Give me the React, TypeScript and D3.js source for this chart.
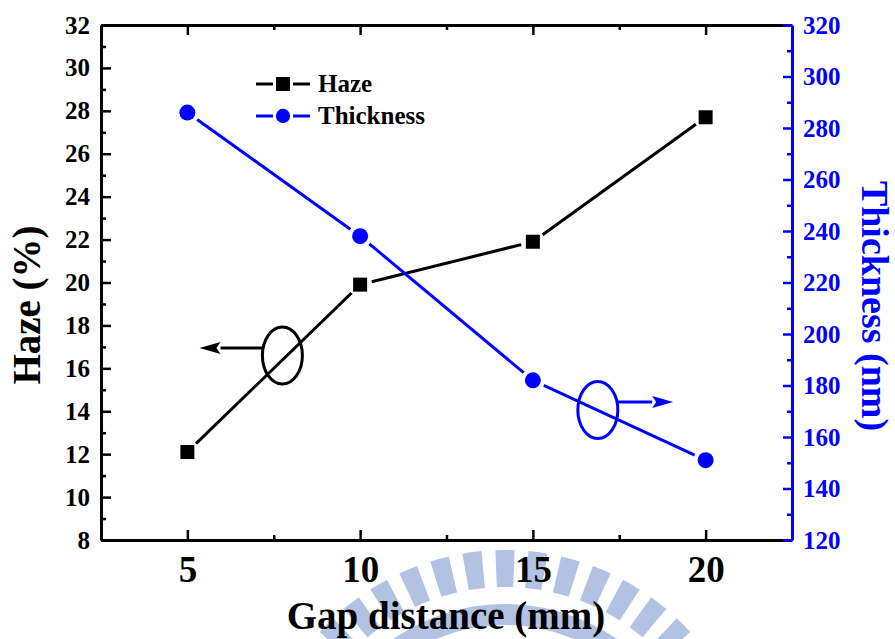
import {useEffect, useRef} from "react";
import * as d3 from "d3";

// Gap distance (mm) on the x axis
const gaps = [5, 10, 15, 20];
// Haze (%) – left axis, black squares
const haze = [12.1, 19.9, 21.9, 27.7];
// Thickness (nm) – right axis, blue circles
const thickness = [286, 238, 182, 151];

const gapTicks = [5, 10, 15, 20];
const gapMinor = [7.5, 12.5, 17.5];
const hazeTicks = [8, 10, 12, 14, 16, 18, 20, 22, 24, 26, 28, 30, 32];
const hazeMinor = [9, 11, 13, 15, 17, 19, 21, 23, 25, 27, 29, 31];
const thickTicks = [120, 140, 160, 180, 200, 220, 240, 260, 280, 300, 320];
const thickMinor = [130, 150, 170, 190, 210, 230, 250, 270, 290, 310];

const BLUE = "#0000ff";
const FONT = "'Liberation Serif', 'Times New Roman', serif";

export default function App() {
    const ref = useRef<SVGSVGElement>(null);

    useEffect(() => {
        const svg = d3.select(ref.current);
        svg.selectAll("*").remove();

        const width = 895;
        const height = 639;
        svg.attr("width", width).attr("height", height);

        const x = d3.scaleLinear().domain([2.5, 22.5]).range([101, 792]);
        const yL = d3.scaleLinear().domain([8, 32]).range([540, 25]);
        const yR = d3.scaleLinear().domain([120, 320]).range([540, 25]);

        // faint logo watermark behind the x title
        const wm = svg.append("g")
            .attr("transform", "translate(505,800)")
            .attr("fill", "#b2c2e2");
        const stripe = d3.arc<number>()
            .innerRadius(213)
            .outerRadius(250)
            .startAngle(a => (a - 2.2) * Math.PI / 180)
            .endAngle(a => (a + 2.2) * Math.PI / 180);
        wm.selectAll("path.stripe")
            .data(d3.range(-76, 77, 7.6))
            .enter().append("path")
            .attr("class", "stripe")
            .attr("d", stripe);
        wm.append("path")
            .attr("d", d3.arc()({innerRadius: 175, outerRadius: 196, startAngle: -Math.PI / 2, endAngle: Math.PI / 2} as any) as string);

        const styleAxis = (g: any, color: string, size: number) => {
            g.select(".domain").attr("stroke", color).attr("stroke-width", 3);
            g.selectAll(".tick line").attr("stroke", color).attr("stroke-width", 2.5);
            g.selectAll(".tick text")
                .attr("fill", color)
                .style("font-family", FONT)
                .style("font-weight", "bold")
                .style("font-size", size + "px");
        };
        const minor = (g: any, color: string) => {
            g.select(".domain").remove();
            g.selectAll(".tick line").attr("stroke", color).attr("stroke-width", 2.5);
        };

        // top axis
        svg.append("g").attr("transform", "translate(0,25)")
            .call(d3.axisTop(x).tickValues(gapMinor).tickSize(-5).tickFormat(() => ""))
            .call(minor, "#000");
        svg.append("g").attr("transform", "translate(0,25)")
            .call(d3.axisTop(x).tickValues(gapTicks).tickSizeInner(-10).tickSizeOuter(0).tickFormat(() => ""))
            .call(styleAxis, "#000", 10);

        // bottom axis
        svg.append("g").attr("transform", "translate(0,540)")
            .call(d3.axisBottom(x).tickValues(gapMinor).tickSize(-5).tickFormat(() => ""))
            .call(minor, "#000");
        svg.append("g").attr("transform", "translate(0,540)")
            .call(d3.axisBottom(x).tickValues(gapTicks).tickSizeInner(-10).tickSizeOuter(0).tickPadding(16))
            .call(styleAxis, "#000", 37);

        // left axis
        svg.append("g").attr("transform", "translate(101,0)")
            .call(d3.axisLeft(yL).tickValues(hazeMinor).tickSize(-5).tickFormat(() => ""))
            .call(minor, "#000");
        svg.append("g").attr("transform", "translate(101,0)")
            .call(d3.axisLeft(yL).tickValues(hazeTicks).tickSizeInner(-10).tickSizeOuter(0).tickPadding(11))
            .call(styleAxis, "#000", 25);

        // right axis
        svg.append("g").attr("transform", "translate(792,0)")
            .call(d3.axisRight(yR).tickValues(thickMinor).tickSize(-5).tickFormat(() => ""))
            .call(minor, BLUE);
        svg.append("g").attr("transform", "translate(792,0)")
            .call(d3.axisRight(yR).tickValues(thickTicks).tickSizeInner(-9).tickSizeOuter(0).tickPadding(11))
            .call(styleAxis, BLUE, 25);

        // axis titles
        svg.append("text")
            .attr("x", 446).attr("y", 629)
            .attr("text-anchor", "middle")
            .style("font-family", FONT).style("font-weight", "bold").style("font-size", "39px")
            .text("Gap distance (mm)");
        svg.append("text")
            .attr("transform", "translate(40,305) rotate(-90)")
            .attr("text-anchor", "middle")
            .style("font-family", FONT).style("font-weight", "bold").style("font-size", "39px")
            .text("Haze (%)");
        svg.append("text")
            .attr("transform", "translate(862,306) rotate(90)")
            .attr("text-anchor", "middle")
            .attr("fill", BLUE)
            .style("font-family", FONT).style("font-weight", "bold").style("font-size", "38px")
            .text("Thickness (nm)");

        // line segments with small gaps near the markers
        const gappedSegments = (pts: [number, number][], gap: number) => {
            const segs: [number, number, number, number][] = [];
            for (let i = 0; i < pts.length - 1; i++) {
                const [x1, y1] = pts[i];
                const [x2, y2] = pts[i + 1];
                const len = Math.hypot(x2 - x1, y2 - y1);
                const ux = (x2 - x1) / len, uy = (y2 - y1) / len;
                segs.push([x1 + ux * gap, y1 + uy * gap, x2 - ux * gap, y2 - uy * gap]);
            }
            return segs;
        };

        const drawSeries = (vals: number[], y: any, color: string, shape: string) => {
            const pts = gaps.map((g, i) => [x(g), y(vals[i])] as [number, number]);
            svg.append("g").selectAll("line")
                .data(gappedSegments(pts, 12))
                .enter().append("line")
                .attr("x1", d => d[0]).attr("y1", d => d[1])
                .attr("x2", d => d[2]).attr("y2", d => d[3])
                .attr("stroke", color).attr("stroke-width", 3);
            const sym = d3.symbol().type(shape === "square" ? d3.symbolSquare : d3.symbolCircle)
                .size(shape === "square" ? 196 : 201);
            svg.append("g").selectAll("path")
                .data(pts)
                .enter().append("path")
                .attr("transform", d => `translate(${d[0]},${d[1]})`)
                .attr("d", sym)
                .attr("fill", color);
        };
        drawSeries(haze, yL, "#000", "square");
        drawSeries(thickness, yR, BLUE, "circle");

        // legend
        const legend = [
            {label: "Haze", color: "#000", shape: d3.symbolSquare, size: 196, y: 84},
            {label: "Thickness", color: BLUE, shape: d3.symbolCircle, size: 160, y: 116},
        ];
        const lg = svg.append("g").selectAll("g")
            .data(legend)
            .enter().append("g")
            .attr("transform", d => `translate(283,${d.y})`);
        lg.append("line").attr("x1", -27).attr("x2", -10).attr("stroke", d => d.color).attr("stroke-width", 3);
        lg.append("line").attr("x1", 10).attr("x2", 27).attr("stroke", d => d.color).attr("stroke-width", 3);
        lg.append("path").attr("d", d => d3.symbol().type(d.shape).size(d.size)()).attr("fill", d => d.color);
        lg.append("text")
            .attr("x", 35).attr("y", 8)
            .attr("fill", "#000")
            .style("font-family", FONT).style("font-weight", "bold").style("font-size", "25px")
            .text(d => d.label);

        // annotation: ellipse + arrow pointing to the axis each series belongs to
        const annotate = (cx: number, cy: number, ay: number, tip: number, color: string) => {
            const g = svg.append("g");
            g.append("ellipse")
                .attr("cx", cx).attr("cy", cy).attr("rx", 20).attr("ry", 28.5)
                .attr("fill", "none").attr("stroke", color).attr("stroke-width", 3);
            const dir = Math.sign(tip - cx);
            const start = cx + dir * 20;
            const base = tip - dir * 21;
            g.append("line")
                .attr("x1", start).attr("y1", ay).attr("x2", base).attr("y2", ay)
                .attr("stroke", color).attr("stroke-width", 3);
            g.append("path")
                .attr("d", `M${tip},${ay}L${base},${ay - 6}L${base + dir * 4},${ay}L${base},${ay + 6}Z`)
                .attr("fill", color);
        };
        annotate(x(7.75), yL(16.6), yL(16.95), x(5.35), "#000");
        annotate(x(16.88), yR(170.5), yR(173.6), x(19.06), BLUE);
    }, []);

    return <svg ref={ref} style={{position: "absolute", left: 0, top: 0, background: "#fff"}}></svg>;
}
